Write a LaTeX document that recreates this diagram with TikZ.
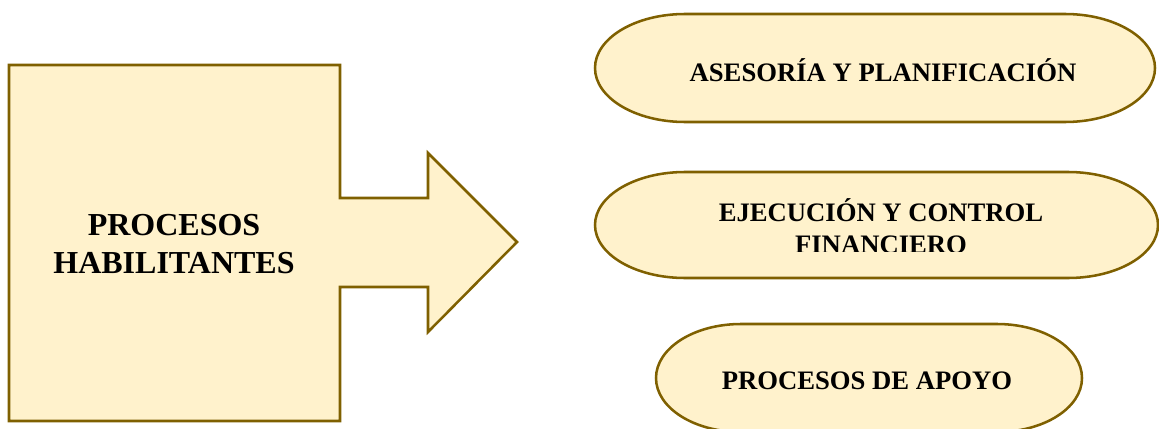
\documentclass[tikz,border=0pt]{standalone}
\usepackage{fontspec}
\setmainfont{Liberation Serif}
\definecolor{boxfill}{HTML}{FFF2CC}
\definecolor{boxline}{HTML}{7F6000}
\begin{document}
\begin{tikzpicture}[x=0.75pt,y=-0.75pt,
  shapeline/.style={draw=boxline, fill=boxfill, line width=1.9pt, line join=miter},
  bigtext/.style={font=\bfseries\fontsize{24}{28.5}\selectfont, align=center, inner sep=0pt},
  pilltext/.style={font=\bfseries\fontsize{20}{24}\selectfont, align=center, inner sep=0pt}]
\useasboundingbox (0,0) rectangle (1159,428);

% block arrow
\draw[shapeline] (9,65) -- (340,65) -- (340,198) -- (428,198) -- (428,153)
  -- (517,242) -- (428,332) -- (428,287) -- (340,287) -- (340,421) -- (9,421) -- cycle;
\node[bigtext] (hab) at (174,244) {PROCESOS\\HABILITANTES};

% rounded process boxes
\draw[shapeline] (685,14) -- (1065,14)
  arc[start angle=90, end angle=-90, x radius=67.5pt, y radius=40.5pt]
  -- (685,122)
  arc[start angle=270, end angle=90, x radius=67.5pt, y radius=40.5pt] -- cycle;
\node[pilltext] (ase) at (883,70) {ASESORÍA Y PLANIFICACIÓN};

\draw[shapeline] (685,172) -- (1068,172)
  arc[start angle=90, end angle=-90, x radius=67.5pt, y radius=39.75pt]
  -- (685,278)
  arc[start angle=270, end angle=90, x radius=67.5pt, y radius=39.75pt] -- cycle;
% second line of this label is cut off by its text frame
\begin{scope}
  \clip (595,172) rectangle (1159,251);
  \node[pilltext, anchor=base] (eje) at (881,221) {EJECUCIÓN Y CONTROL};
  \node[pilltext, anchor=base] (fin) at (881,253) {FINANCIERO};
\end{scope}

\draw[shapeline] (741,324) -- (997,324)
  arc[start angle=90, end angle=-90, x radius=63.75pt, y radius=40.5pt]
  -- (741,432)
  arc[start angle=270, end angle=90, x radius=63.75pt, y radius=40.5pt] -- cycle;
\node[pilltext] (apo) at (867,381) {PROCESOS DE APOYO};
\end{tikzpicture}
\end{document}
